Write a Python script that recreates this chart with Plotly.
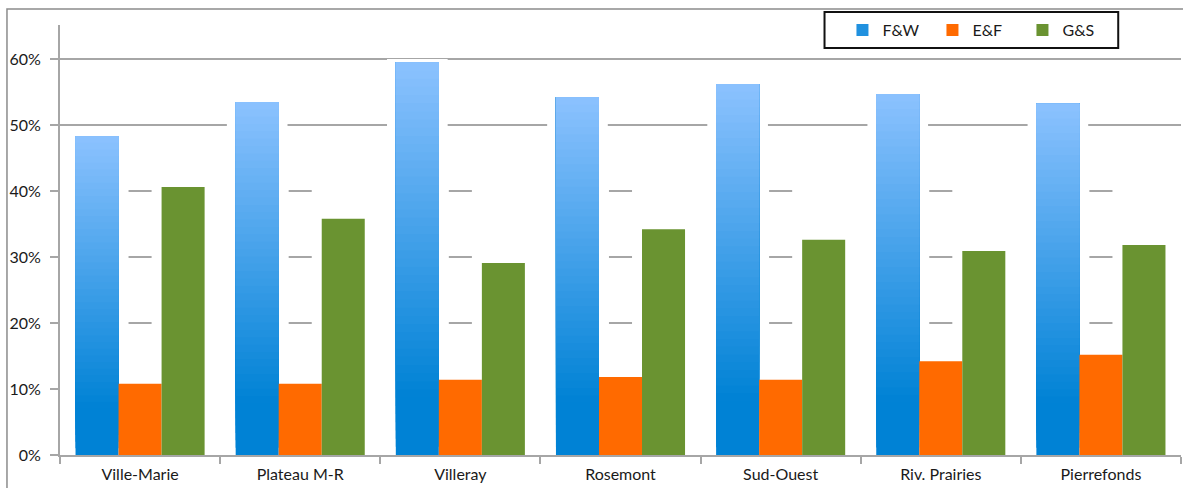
import plotly.graph_objects as go

# Share of each category per district
districts = ["Ville-Marie", "Plateau M-R", "Villeray", "Rosemont",
             "Sud-Ouest", "Riv. Prairies", "Pierrefonds"]
fw = [0.483, 0.535, 0.595, 0.542, 0.562, 0.547, 0.532]
ef = [0.108, 0.108, 0.114, 0.118, 0.114, 0.142, 0.152]
gs = [0.406, 0.358, 0.291, 0.342, 0.326, 0.309, 0.318]
y_ticks = [0, 0.1, 0.2, 0.3, 0.4, 0.5, 0.6]

FONT = "Lato"
GRID = "#a6a6a6"
BARGAP = 0.194
x = list(range(len(districts)))

fig = go.Figure()

# F&W bars: layered bars, each starting a little higher and all ending at the
# value, so later (lighter) layers paint the upper part -> vertical gradient
N_SLICES = 48
bottom_rgb = (0, 130, 213)
top_rgb = (140, 194, 255)
for k in range(N_SLICES):
    t = (k + 0.5) / N_SLICES
    t = max(0.0, (t - 0.15) / 0.85)
    rgb = tuple(round(b + (c - b) * t) for b, c in zip(bottom_rgb, top_rgb))
    color = "rgb(%d,%d,%d)" % rgb
    fig.add_trace(go.Bar(
        x=x, y=[v - v * k / N_SLICES for v in fw], base=[v * k / N_SLICES for v in fw],
        offsetgroup="fw", name="F&W", legendgroup="fw",
        showlegend=(k == N_SLICES // 3), legendrank=1,
        marker=dict(color=color, line=dict(width=0)),
    ))

fig.add_trace(go.Bar(x=x, y=ef, name="E&F", offsetgroup="ef", legendrank=2,
                     marker=dict(color="#ff6a00", line=dict(width=0))))
fig.add_trace(go.Bar(x=x, y=gs, name="G&S", offsetgroup="gs", legendrank=3,
                     marker=dict(color="#6a9331", line=dict(width=0))))

# White masks sitting between the gridlines and the bars
bar_w = (1 - BARGAP) / 3
halo = 0.055
slot = 0.072
mask_top = 0.42
shapes = []
for j in range(-1, len(districts)):
    x0 = max(j + slot, -0.5)
    x1 = min(j + 1 - slot, len(districts) - 0.5)
    shapes.append(dict(type="rect", xref="x", yref="y", layer="between",
                       x0=x0, x1=x1, y0=0, y1=mask_top,
                       fillcolor="white", line=dict(width=0)))
for i, v in enumerate(fw):
    left = i - 1.5 * bar_w
    shapes.append(dict(type="rect", xref="x", yref="y", layer="between",
                       x0=left - halo, x1=left + bar_w + halo,
                       y0=mask_top - 0.001, y1=v + 0.005,
                       fillcolor="white", line=dict(width=0)))

# Outer chart frame
shapes.append(dict(type="rect", xref="paper", yref="paper", layer="above",
                   x0=-0.0473, x1=1.02, y0=-0.12, y1=1.0372,
                   line=dict(color="#8c8c8c", width=1.5)))
# Legend box
shapes.append(dict(type="rect", xref="paper", yref="paper", layer="above",
                   x0=0.682, x1=0.944, y0=0.9465, y1=1.0302,
                   line=dict(color="#111111", width=2)))

fig.update_layout(
    width=1183, height=488,
    margin=dict(l=60, r=2, t=25, b=33),
    paper_bgcolor="white", plot_bgcolor="white",
    barmode="group", bargap=BARGAP, bargroupgap=0,
    font=dict(family=FONT, size=16, color="#1a1a1a"),
    shapes=shapes,
    legend=dict(orientation="h", x=0.698, xanchor="left", y=0.988, yanchor="middle",
                bgcolor="rgba(0,0,0,0)", borderwidth=0,
                font=dict(family=FONT, size=16, color="#1a1a1a"),
                entrywidth=45, entrywidthmode="pixels", traceorder="normal"),
    xaxis=dict(
        range=[-0.5, len(districts) - 0.5],
        tickmode="array", tickvals=x, ticktext=districts, ticks="",
        showgrid=False, zeroline=False,
        showline=True, linecolor=GRID, linewidth=2,
        minor=dict(tickmode="array", tickvals=[i - 0.5 for i in range(len(districts) + 1)],
                   ticks="outside", ticklen=7, tickwidth=2, tickcolor=GRID, showgrid=False),
        tickfont=dict(family=FONT, size=16, color="#1a1a1a"),
        ticklabelstandoff=4,
    ),
    yaxis=dict(
        range=[0, 0.6515],
        tickmode="array", tickvals=y_ticks, tickformat=".0%",
        ticks="outside", ticklen=8, tickwidth=2, tickcolor=GRID,
        showgrid=True, gridcolor=GRID, gridwidth=2,
        zeroline=False, showline=True, linecolor=GRID, linewidth=2,
        tickfont=dict(family=FONT, size=16, color="#1a1a1a"),
        ticklabelstandoff=6,
    ),
)

fig.write_html("out.html")
